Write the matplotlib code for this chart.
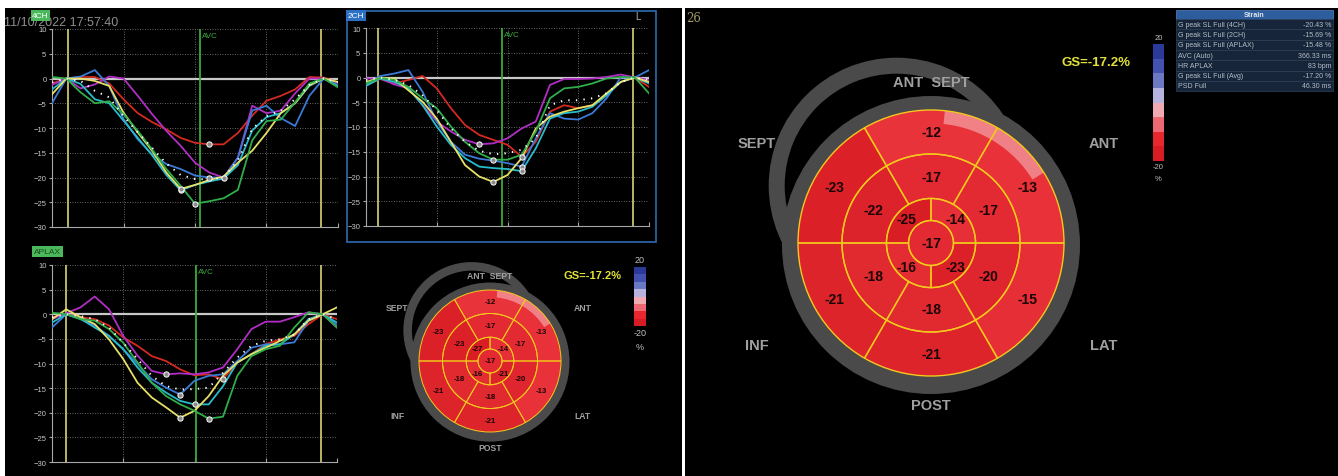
"""
Longitudinal strain report
==========================
Three strain traces (4CH, 2CH, APLAX) plus the 17-segment bullseye, small and large.
"""

import numpy as np
import matplotlib
matplotlib.use("Agg")
import matplotlib.pyplot as plt
from matplotlib.patches import Wedge, Circle, Rectangle
from matplotlib.colors import LinearSegmentedColormap, Normalize

plt.rcParams["font.family"] = ["Liberation Sans", "DejaVu Sans"]

W, H = 1338, 477

# time axis of the traces, one sample every 50 (arbitrary ms scale)
TIME = np.arange(0, 1001, 50)

# ---- 4CH traces (strain %) ----
CH4_RED = [-1.0, 0.0, 0.3, 0.3, -1.0, -4.2, -7.0, -8.8, -10.3, -12.0, -13.0, -13.3, -13.3, -11.0, -7.5, -4.5, -3.5, -2.2, 0.3, 0.2, -0.8]
CH4_MAGENTA = [-1.3, 0.0, -2.0, -1.2, 0.4, 0.0, -3.5, -7.2, -10.6, -13.6, -17.0, -19.0, -20.0, -16.0, -5.5, -7.0, -6.5, -3.0, 0.0, 0.0, -0.8]
CH4_BLUE = [-5.0, 0.0, 0.4, 1.7, -1.5, -8.2, -12.3, -15.3, -17.3, -18.3, -19.6, -20.0, -20.0, -16.0, -6.5, -5.5, -8.0, -9.6, -3.5, 0.0, -1.3]
CH4_CYAN = [-2.2, 0.0, -1.1, -4.2, -5.0, -8.5, -12.0, -15.5, -19.5, -22.6, -21.5, -20.8, -20.2, -17.5, -10.5, -7.8, -7.0, -5.0, -1.5, 0.0, -1.6]
CH4_YELLOW = [-3.2, 0.0, 0.0, -0.5, -1.5, -6.9, -10.9, -14.6, -19.0, -22.3, -21.5, -20.5, -19.8, -17.0, -14.6, -11.0, -7.0, -5.0, -1.3, 0.0, -0.7]
CH4_GREEN = [0.3, 0.0, -2.8, -5.0, -4.6, -7.2, -10.6, -14.3, -18.3, -21.7, -25.3, -24.8, -24.2, -22.5, -12.5, -8.6, -8.3, -4.8, -1.0, 0.0, -1.8]
CH4_AVG = [-0.8, 0.0, -0.5, -2.5, -3.8, -7.6, -10.9, -14.0, -17.2, -19.5, -20.3, -20.4, -20.0, -16.5, -10.2, -7.6, -6.5, -4.2, -1.3, 0.0, -0.8]

# ---- 2CH traces ----
CH2_RED = [-1.5, -0.3, -1.2, -0.5, 0.3, -2.2, -6.2, -9.6, -11.6, -12.6, -13.6, -16.0, -13.0, -6.9, -5.6, -6.2, -5.6, -3.6, -0.9, 0.0, -1.9]
CH2_MAGENTA = [-0.2, -0.2, -1.4, -2.2, -5.6, -8.9, -10.9, -12.6, -13.5, -13.3, -12.3, -10.3, -8.9, -1.5, -0.3, -0.3, -0.2, 0.1, 0.6, 0.0, -0.5]
CH2_BLUE = [-1.2, 0.3, 0.8, 1.5, -2.9, -8.9, -13.0, -15.6, -16.4, -16.8, -17.3, -18.0, -12.3, -7.2, -8.3, -8.5, -7.2, -4.2, 0.0, 0.0, 1.5]
CH2_CYAN = [-1.7, -0.2, -0.9, -2.2, -5.6, -9.9, -13.6, -16.3, -18.0, -18.3, -18.5, -18.9, -14.3, -8.3, -7.2, -6.9, -5.9, -3.6, -0.9, 0.0, -1.2]
CH2_YELLOW = [-0.9, -0.1, -0.2, -2.6, -4.9, -8.3, -13.0, -17.7, -20.0, -21.1, -19.7, -16.3, -10.3, -7.9, -6.9, -6.2, -5.6, -3.2, -0.9, 0.0, -0.9]
CH2_GREEN = [-1.2, -0.1, -0.5, -1.9, -4.2, -6.2, -9.9, -13.0, -15.3, -16.6, -16.6, -15.6, -10.9, -4.2, -2.2, -1.9, -1.2, -0.2, 0.1, 0.0, -3.2]
CH2_AVG = [-0.5, 0.0, -0.5, -1.5, -3.6, -6.6, -10.3, -13.0, -14.8, -15.5, -15.3, -14.6, -12.3, -5.6, -4.6, -4.6, -4.2, -3.2, -0.9, 0.0, -0.5]

# ---- APLAX traces ----
APLAX_RED = [-0.6, 0.0, -0.6, -1.0, -2.3, -4.7, -6.4, -8.5, -9.5, -11.2, -12.4, -12.2, -13.2, -9.8, -8.1, -6.1, -5.1, -4.4, -2.0, 0.0, -1.0]
APLAX_MAGENTA = [-1.0, 0.2, 1.4, 3.6, 1.0, -4.4, -8.4, -11.5, -12.2, -12.0, -12.2, -11.8, -10.8, -7.1, -3.0, -1.5, -1.5, -0.6, 0.4, 0.0, -2.7]
APLAX_BLUE = [-2.7, 0.0, -1.0, -2.3, -4.4, -7.1, -10.1, -13.2, -14.9, -16.3, -13.5, -12.5, -12.2, -9.5, -6.8, -6.1, -6.1, -5.7, -1.3, 0.0, -2.2]
APLAX_CYAN = [-1.7, 0.0, -0.9, -2.7, -4.4, -7.1, -10.8, -13.9, -15.9, -17.6, -18.3, -18.3, -14.6, -9.8, -8.1, -6.4, -6.1, -4.1, -1.0, 0.0, -1.7]
APLAX_YELLOW = [-1.0, 1.0, -0.6, -2.0, -5.1, -9.1, -13.9, -16.9, -18.9, -21.0, -19.6, -16.6, -12.5, -9.8, -8.1, -6.8, -5.4, -4.1, -1.3, 0.0, 1.4]
APLAX_GREEN = [0.3, 0.0, -1.0, -1.3, -3.0, -5.8, -9.8, -13.9, -16.6, -18.3, -19.6, -21.2, -20.8, -12.5, -8.5, -7.1, -6.4, -2.7, 0.4, 0.0, -2.7]
APLAX_AVG = [-0.6, 0.0, -0.4, -1.0, -2.7, -5.8, -9.1, -12.5, -14.6, -15.3, -15.2, -14.9, -11.9, -8.8, -6.4, -5.4, -5.1, -4.1, -1.0, 0.0, -1.0]

# cycle markers: (start, end, AVC) on the time axis
CH4_EVENTS = (55, 939, 517)
CH2_EVENTS = (41, 945, 482)
APLAX_EVENTS = (50, 944, 505)

# ---- bullseye values ----
# basal and mid walls clockwise from the top: ANT SEPT, ANT, LAT, POST, INF, SEPT
# apical quadrants clockwise from upper right
WALL_LABELS = ["ANT  SEPT", "ANT", "LAT", "POST", "INF", "SEPT"]
BIG_BASAL = [-12, -13, -15, -21, -21, -23]
BIG_MID = [-17, -17, -20, -18, -18, -22]
BIG_APICAL = [-14, -23, -16, -25]
BIG_APEX = -17
SMALL_BASAL = [-12, -13, -13, -21, -21, -23]
SMALL_MID = [-17, -17, -20, -18, -18, -23]
SMALL_APICAL = [-14, -21, -16, -27]
SMALL_APEX = -17
GLOBAL_STRAIN = -17.2

# colour scale blocks, top (+20) to bottom (-20)
SCALE_COLORS = ["#2b3a98", "#4352b0", "#6b78c4", "#b6b3dc", "#f2aab2", "#ee6874", "#e8262d", "#d81c24"]

# summary table
TABLE_LABELS = ["G peak SL Full (4CH)", "G peak SL Full (2CH)", "G peak SL Full (APLAX)",
                "AVC (Auto)", "HR APLAX", "G peak SL Full (Avg)", "PSD Full"]
TABLE_VALUES = ["-20.43 %", "-15.69 %", "-15.48 %", "366.33 ms", "83 bpm", "-17.20 %", "46.30 ms"]

TRACE_COLORS = {
    "red": "#d42a20",
    "magenta": "#b02ec4",
    "blue": "#3b7ad6",
    "cyan": "#28bccc",
    "yellow": "#e6e066",
    "green": "#2fae4a",
}

SEG_CMAP = LinearSegmentedColormap.from_list("seg", ["#d81d25", "#ec363d"])
SEG_NORM = Normalize(-25, -10)
SEG_LINE = "#f4c81c"
RING_GREY = "#4a4a4a"
LABEL_GREY = "#a0a0a0"
GS_YELLOW = "#e2e23a"


def add_axes_px(fig, x0, y0, x1, y1):
    """Axes placed by pixel box (top-left origin)."""
    return fig.add_axes([x0 / W, 1 - y1 / H, (x1 - x0) / W, (y1 - y0) / H])


def draw_traces(ax, curves, avg, events):
    start, end, avc = events
    ax.set_facecolor("none")
    ax.set_xlim(0, 1000)
    ax.set_ylim(-30, 10)
    ax.set_yticks(np.arange(-30, 11, 5))
    ax.set_xticks([250, 500, 750, 1000])
    ax.grid(True, color="#8a8a8a", linestyle=(0, (1, 2)), linewidth=0.6)
    ax.axhline(0, color="#c8c8c8", lw=1.6, zorder=2)
    for x in (start, end):
        ax.axvline(x, color="#c9c46a", lw=1.3, zorder=2)
    ax.axvline(avc, color="#3ca83c", lw=1.3, zorder=2)
    ax.text(avc + 6, 9.3, "AVC", color="#3ca83c", fontsize=5.8, va="top", ha="left")

    for name, values in curves.items():
        v = np.asarray(values)
        ax.plot(TIME, v, color=TRACE_COLORS[name], lw=1.3, zorder=3)
        i = int(np.argmin(v))
        ax.plot(TIME[i], v[i], "o", ms=3.8, mfc="#8a8a8a", mec="white", mew=0.7, zorder=5)
    ax.plot(TIME, avg, color="white", lw=1.4, linestyle=(0, (0.7, 3.2)), zorder=4)

    for side in ("top", "right"):
        ax.spines[side].set_visible(False)
    for side in ("left", "bottom"):
        ax.spines[side].set_color("#a8a8a8")
        ax.spines[side].set_linewidth(0.8)
    ax.tick_params(axis="x", direction="in", length=3, color="#a8a8a8", labelbottom=False)
    ax.tick_params(axis="y", direction="out", length=2.5, color="#a8a8a8",
                   labelcolor="#c8c8c8", labelsize=5.5, pad=1.5)


def draw_bullseye(ax, cx, cy, R, basal, mid, apical, apex, fs, lw):
    s = R / 133.0
    # grey "3D" rings behind the disc
    ax.add_patch(Wedge((cx - 34.3 * s, cy - 57.3 * s), 128 * s, 0, 360, width=16 * s,
                       color=RING_GREY, lw=0, zorder=2))
    ax.add_patch(Circle((cx, cy + 2 * s), 149 * s, color=RING_GREY, lw=0, zorder=2))

    r_apex, r_apical, r_mid = 0.169 * R, 0.335 * R, 0.669 * R
    segments = []  # (r_out, r_in, centre angle, half width, value, text radius)
    for i, v in enumerate(basal):
        segments.append((R, r_mid, 90 - 60 * i, 30, v, 0.835 * R))
    for i, v in enumerate(mid):
        segments.append((r_mid, r_apical, 90 - 60 * i, 30, v, 0.496 * R))
    for i, v in enumerate(apical):
        segments.append((r_apical, r_apex, 45 - 90 * i, 45, v, 0.256 * R))

    # y axis is inverted, so a screen angle a becomes -a in data space
    for r_out, r_in, c, h, v, _ in segments:
        ax.add_patch(Wedge((cx, cy), r_out, -(c + h), -(c - h), width=r_out - r_in,
                           fc=SEG_CMAP(SEG_NORM(v)), ec="none", zorder=3))
    ax.add_patch(Circle((cx, cy), r_apex, fc=SEG_CMAP(SEG_NORM(apex)), ec="none", zorder=3))
    # glossy highlight on the upper right rim
    ax.add_patch(Wedge((cx, cy), R, -84, -32, width=0.10 * R, fc="#f3a3a8", alpha=0.7,
                       ec="none", zorder=4))

    for r_out, r_in, c, h, v, _ in segments:
        ax.add_patch(Wedge((cx, cy), r_out, -(c + h), -(c - h), width=r_out - r_in,
                           fc="none", ec=SEG_LINE, lw=lw, zorder=5))
    ax.add_patch(Circle((cx, cy), r_apex, fc="none", ec=SEG_LINE, lw=lw, zorder=5))

    for r_out, r_in, c, h, v, rt in segments:
        a = np.radians(c)
        ax.text(cx + rt * np.cos(a), cy - rt * np.sin(a), f"{v}", fontsize=fs,
                fontweight="bold", color="#1c0505", ha="center", va="center", zorder=6)
    ax.text(cx, cy, f"{apex}", fontsize=fs, fontweight="bold", color="#1c0505",
            ha="center", va="center", zorder=6)


def draw_wall_labels(ax, cx, cy, R, fs):
    offsets = [(0, -1.21), (1.30, -0.75), (1.30, 0.77), (0, 1.22), (-1.31, 0.77), (-1.31, -0.75)]
    for label, (dx, dy) in zip(WALL_LABELS, offsets):
        ax.text(cx + dx * R, cy + dy * R, label, fontsize=fs, fontweight="bold",
                color=LABEL_GREY, ha="center", va="center", zorder=7)


def draw_scale(ax, x0, y0, x1, y1, fs):
    step = (y1 - y0) / len(SCALE_COLORS)
    for i, c in enumerate(SCALE_COLORS):
        ax.add_patch(Rectangle((x0, y0 + i * step), x1 - x0, step, fc=c, ec="none", zorder=3))
    xc = (x0 + x1) / 2
    ax.text(xc, y0 - 3, "20", fontsize=fs, color="#c0c0c0", ha="center", va="bottom")
    ax.text(xc, y1 + 2, "-20", fontsize=fs, color="#c0c0c0", ha="center", va="top")
    ax.text(xc, y1 + 2 + fs * 2.1, "%", fontsize=fs, color="#c0c0c0", ha="center", va="top")


def draw_table(ax, x0, x1, y0, header_h, row_h):
    ax.add_patch(Rectangle((x0, y0), x1 - x0, header_h, fc="#2d5d9c", ec="#4a78b4", lw=0.6, zorder=3))
    ax.text((x0 + x1) / 2, y0 + header_h / 2, "Strain", fontsize=5.2, fontweight="bold",
            color="#dfe6ee", ha="center", va="center", zorder=4)
    top = y0 + header_h
    for i, (lab, val) in enumerate(zip(TABLE_LABELS, TABLE_VALUES)):
        y = top + i * row_h
        ax.add_patch(Rectangle((x0, y), x1 - x0, row_h, fc="#17253a", ec="#2f4159", lw=0.5, zorder=3))
        ax.text(x0 + 2, y + row_h / 2, lab, fontsize=5, color="#b4bec8", ha="left", va="center", zorder=4)
        ax.text(x1 - 2, y + row_h / 2, val, fontsize=5, color="#b4bec8", ha="right", va="center", zorder=4)


def main():
    fig = plt.figure(figsize=(W / 100, H / 100), dpi=100)
    fig.patch.set_facecolor("white")

    bg = fig.add_axes([0, 0, 1, 1])
    bg.set_xlim(0, W)
    bg.set_ylim(H, 0)
    bg.axis("off")
    bg.add_patch(Rectangle((5, 9), 676.5, H - 9, fc="black", ec="none", zorder=0))
    bg.add_patch(Rectangle((685, 9), W - 685, H - 9, fc="black", ec="none", zorder=0))

    # header texts and view tags
    bg.text(4, 23, "11/10/2022 17:57:40", fontsize=9, color="#8e8e8e", ha="left", va="center", zorder=1)
    tag = dict(boxstyle="square,pad=0.2", ec="none")
    bg.text(40.5, 16.5, "4CH", fontsize=6, color="white", ha="center", va="center",
            bbox=dict(fc="#4cb85c", **tag), zorder=3)
    bg.text(356, 16.5, "2CH", fontsize=6, color="white", ha="center", va="center",
            bbox=dict(fc="#2d6fc4", **tag), zorder=3)
    bg.text(47.5, 252.5, "APLAX", fontsize=6, color="#1c4a1c", ha="center", va="center",
            bbox=dict(fc="#4cb85c", **tag), zorder=3)
    bg.text(638, 17, "L", fontsize=7, color="#b0b0b0", ha="center", va="center")
    bg.text(686, 18, "26", fontsize=8.5, color="#a09868", ha="left", va="center", family="DejaVu Serif")
    bg.add_patch(Rectangle((347, 12), 309, 230.5, fc="none", ec="#2e6bb0", lw=1.2, zorder=2))

    views = [
        ((52, 30, 338, 228), {"red": CH4_RED, "magenta": CH4_MAGENTA, "blue": CH4_BLUE,
                              "cyan": CH4_CYAN, "yellow": CH4_YELLOW, "green": CH4_GREEN},
         CH4_AVG, CH4_EVENTS),
        ((366, 29, 649, 227), {"red": CH2_RED, "magenta": CH2_MAGENTA, "blue": CH2_BLUE,
                               "cyan": CH2_CYAN, "yellow": CH2_YELLOW, "green": CH2_GREEN},
         CH2_AVG, CH2_EVENTS),
        ((52, 266, 337, 463), {"red": APLAX_RED, "magenta": APLAX_MAGENTA, "blue": APLAX_BLUE,
                               "cyan": APLAX_CYAN, "yellow": APLAX_YELLOW, "green": APLAX_GREEN},
         APLAX_AVG, APLAX_EVENTS),
    ]
    for box, curves, avg, events in views:
        ax = add_axes_px(fig, *box)
        draw_traces(ax, curves, avg, events)

    # small bullseye (left panel)
    draw_bullseye(bg, 490, 362, 71, SMALL_BASAL, SMALL_MID, SMALL_APICAL, SMALL_APEX, 5.6, 0.7)
    draw_wall_labels(bg, 490, 362, 71, 6.2)
    draw_scale(bg, 634, 268, 646, 327, 6.5)
    bg.text(592, 276, f"GS={GLOBAL_STRAIN}%", fontsize=8, fontweight="bold", color=GS_YELLOW,
            ha="center", va="center")

    # large bullseye (right panel)
    draw_bullseye(bg, 931, 244, 133, BIG_BASAL, BIG_MID, BIG_APICAL, BIG_APEX, 10, 1.0)
    draw_wall_labels(bg, 931, 244, 133, 10.5)
    draw_scale(bg, 1153, 45, 1164, 162, 5.5)
    bg.text(1096, 63, f"GS={GLOBAL_STRAIN}%", fontsize=9.5, fontweight="bold", color=GS_YELLOW,
            ha="center", va="center")

    draw_table(bg, 1176, 1333, 11, 9, 10.3)

    fig.savefig("out.png", dpi=100, facecolor=fig.get_facecolor())
    plt.close(fig)


if __name__ == "__main__":
    main()
